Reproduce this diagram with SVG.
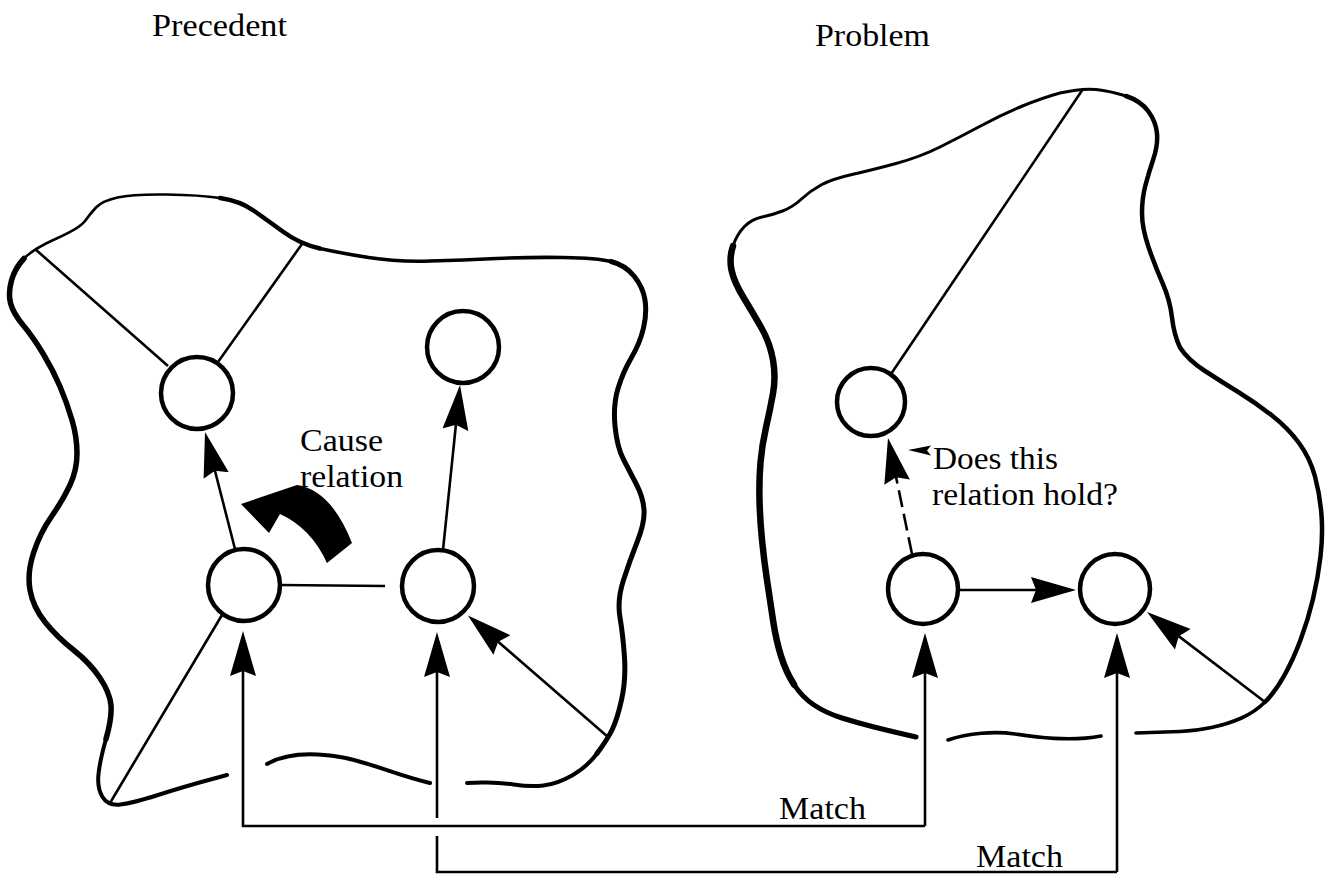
<svg xmlns="http://www.w3.org/2000/svg" width="1333" height="884" viewBox="0 0 1333 884">
<style>
.txt{font-family:"Liberation Serif","Times New Roman",serif;font-size:32px;fill:#000}
.blob{fill:none;stroke:#000;stroke-linecap:round;stroke-linejoin:round}
.node{fill:#fff;stroke:#000;stroke-width:4.5}
.ln{fill:none;stroke:#000;stroke-width:2.6}
.arr{fill:none;stroke:#000;stroke-width:2.6;marker-end:url(#ah)}
</style>
<defs>
<marker id="ah" markerUnits="userSpaceOnUse" markerWidth="46" markerHeight="28" viewBox="0 0 46 28" refX="39" refY="14" orient="auto">
<path d="M0,1 L45,14 L0,27 L5,14 Z" fill="#000"/>
</marker>
</defs>
<rect width="1333" height="884" fill="#fff"/>

<g id="precedent-region">
<path class="blob" stroke-width="4" d="M 227,775 L 205,781 Q 183,787 158,795 Q 133,803 120.5,804.5 Q 108,806 102.5,797 Q 97,788 98.5,774 Q 100,760 106,739"/>
<path class="blob" stroke-width="5.5" d="M 106,739 Q 112,718 111,705.5 Q 110,693 100,678 Q 90,663 73.5,650 Q 57,637 45,622 Q 33,607 30,590 Q 27,573 33.5,553 Q 40,533 51.5,516.5 Q 63,500 70,485 Q 77,470 77,453.5 Q 77,437 72,420 Q 67,403 60,386.5 Q 53,370 43,353.5 Q 33,337 23,325 Q 13,313 10.5,303 Q 8,293 11.5,280.5 Q 15,268 24,258.5"/>
<path class="blob" stroke-width="2.6" d="M 24,258.5 Q 33,249 56.5,238.5 Q 80,228 85,221 Q 90,214 96,207.5 Q 102,201 117.5,197.5 Q 133,194 166.5,194.5 Q 200,195 220,198"/>
<path class="blob" stroke-width="4.5" d="M 220,198 Q 240,201 253.5,210.5 Q 267,220 283.5,232 Q 300,244 320,248.5"/>
<path class="blob" stroke-width="3.6" d="M 320,248.5 Q 340,253 368.5,257.5 Q 397,262 430,261 Q 463,260 496.5,258.5 Q 530,257 563.5,257.5 Q 597,258 611,261.5"/>
<path class="blob" stroke-width="5" d="M 611,261.5 Q 625,265 634,276 Q 643,287 645,300 Q 647,313 643.5,328 Q 640,343 631.5,357.5 Q 623,372 618,388.5 Q 613,405 615,426 Q 617,447 623.5,459.5 Q 630,472 636.5,484.5 Q 643,497 644,509.5 Q 645,522 637.5,541 Q 630,560 623.5,580 Q 617,600 620,617.5 Q 623,635 624.5,657.5 Q 626,680 621.5,700 Q 617,720 612,730 Q 607,740 597,753.5"/>
<path class="blob" stroke-width="4" d="M 597,753.5 Q 587,767 572,775.5 Q 557,784 543.5,785.5 Q 530,787 513.5,784.5 Q 497,782 482,782.5 L 467,783"/>
<path class="blob" stroke-width="4" d="M 267,764 C 285,754 310,752 340,757 S 395,775 430,783"/>
</g>

<g id="problem-region">
<path class="blob" stroke-width="5" d="M 916,737 L 903,734 Q 890,731 874,727 Q 858,723 842,718 Q 826,713 814,705 Q 802,697 794,684.5"/>
<path class="blob" stroke-width="6.5" d="M 794,684.5 Q 786,672 781,656 Q 776,640 773,620 Q 770,600 767,580 Q 764,560 762,540 Q 760,520 759.5,500 Q 759,480 760.5,462.5 Q 762,445 766,427.5 Q 770,410 773,393.5 Q 776,377 773,360 Q 770,343 761.5,328 Q 753,313 743.5,297.5 Q 734,282 731.5,270 Q 729,258 733,246"/>
<path class="blob" stroke-width="3" d="M 733,246 Q 737,234 744.5,226.5 Q 752,219 762,217 Q 772,215 782.5,211 Q 793,207 801.5,199 Q 810,191 821,185 Q 832,179 852,174.5 Q 872,170 896,163.5 Q 920,157 940,147 Q 960,137 981.5,125.5 Q 1003,114 1022.5,106 Q 1042,98 1060,93 Q 1082,88 1096,89.5 Q 1110,91 1126,96"/>
<path class="blob" stroke-width="4.5" d="M 1126,96 Q 1141,101 1148.5,111.5 Q 1156,122 1157,133.5 Q 1158,145 1153.5,158.5 Q 1149,172 1145.5,185 Q 1142,198 1142,213 Q 1142,228 1148.5,247 Q 1155,266 1162.5,283 Q 1170,300 1172,317.5 Q 1174,335 1180,347.5 Q 1188,360 1205,371 Q 1222,382 1239,392.5 Q 1256,403 1272,415.5 Q 1288,428 1299,443 Q 1310,458 1315,476.5 Q 1320,495 1321.5,515 Q 1323,535 1320.5,556.5 Q 1318,578 1313,599 Q 1308,620 1300.5,640 Q 1293,660 1284,676 Q 1275,692 1265,702"/>
<path class="blob" stroke-width="3.6" d="M 1265,702 Q 1255,712 1241.5,718 Q 1228,724 1211.5,727.5 Q 1195,731 1180,731.5 Q 1165,732 1150.5,732.5 L 1136,733"/>
<path class="blob" stroke-width="3.6" d="M 948,740 C 968,733 995,731 1015,734 S 1070,742 1101,736"/>
</g>

<g id="connectors">
<line class="ln" x1="35" y1="249" x2="168" y2="366"/>
<line class="ln" x1="302" y1="244" x2="218" y2="362"/>
<line class="ln" x1="110" y1="803" x2="222" y2="615"/>
<line class="ln" x1="280" y1="585" x2="385" y2="586"/>
<line class="arr" x1="235" y1="549" x2="206.5" y2="437.8"/>
<line class="arr" x1="443" y1="550" x2="459.4" y2="391"/>
<line class="arr" x1="608" y1="737" x2="472.5" y2="619.5"/>
<path class="arr" d="M 925,826 L 243,826 L 243,637"/>
<path class="ln" d="M 1117,872 L 437,872 L 437,836"/>
<line class="arr" x1="437" y1="818" x2="437" y2="638"/>
<line class="arr" x1="925" y1="826" x2="925" y2="639"/>
<line class="arr" x1="1117" y1="872" x2="1117" y2="639"/>
<line class="ln" x1="891" y1="374" x2="1083" y2="89"/>
<line class="arr" x1="912" y1="554" x2="889.2" y2="443.9" stroke-dasharray="17 7"/>
<line class="arr" x1="960" y1="590" x2="1070" y2="590"/>
<line class="arr" x1="1265" y1="702" x2="1151.8" y2="615.6"/>
<path d="M 241,504 L 297,485 Q 331,490 352,543 L 327,563 Q 311,528 280,514 L 269,533 Z" fill="#000"/>
<path d="M 908,450 L 931,445.5 L 927,450.5 L 931,455.5 Z" fill="#000"/>
</g>

<g id="node-A"><circle class="node" cx="197" cy="393" r="36"/></g>
<g id="node-B"><circle class="node" cx="463" cy="347" r="36"/></g>
<g id="node-C"><circle class="node" cx="244" cy="585" r="36"/></g>
<g id="node-D"><circle class="node" cx="438" cy="586" r="36"/></g>
<g id="node-E"><ellipse class="node" cx="871" cy="402" rx="34" ry="34"/></g>
<g id="node-G"><ellipse class="node" cx="923" cy="589" rx="35" ry="35"/></g>
<g id="node-F"><ellipse class="node" cx="1115" cy="589" rx="35" ry="35"/></g>

<g id="labels">
<text class="txt" x="152" y="36" textLength="135" lengthAdjust="spacingAndGlyphs">Precedent</text>
<text class="txt" x="815" y="46" textLength="115" lengthAdjust="spacingAndGlyphs">Problem</text>
<text class="txt" x="300" y="451" textLength="83" lengthAdjust="spacingAndGlyphs">Cause</text>
<text class="txt" x="300" y="487" textLength="103" lengthAdjust="spacingAndGlyphs">relation</text>
<text class="txt" x="933" y="469" textLength="125" lengthAdjust="spacingAndGlyphs">Does this</text>
<text class="txt" x="932" y="505" textLength="186" lengthAdjust="spacingAndGlyphs">relation hold?</text>
<text class="txt" x="779" y="819" textLength="87" lengthAdjust="spacingAndGlyphs">Match</text>
<text class="txt" x="976" y="867" textLength="87" lengthAdjust="spacingAndGlyphs">Match</text>
</g>
</svg>
